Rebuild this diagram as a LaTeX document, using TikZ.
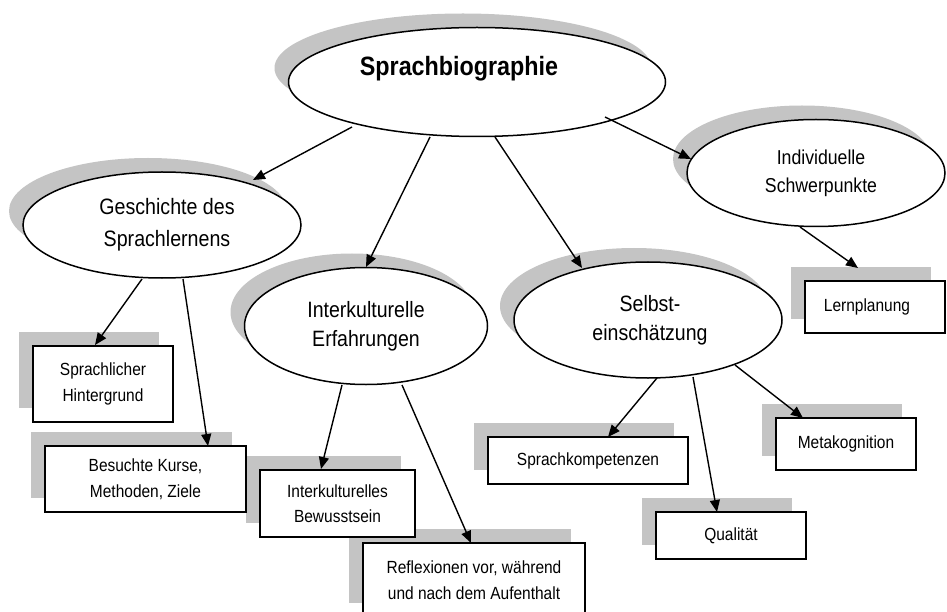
\documentclass[tikz,border=0pt]{standalone}
\usepackage{fontspec}
\setmainfont[FakeStretch=0.88]{Liberation Sans}
\usetikzlibrary{shapes.geometric,shadows,arrows.meta}
\begin{document}
\begin{tikzpicture}[x=1pt,y=-1pt,
  shad/.style={drop shadow={shadow xshift=-14pt,shadow yshift=14pt,fill=black!23,opacity=1}},
  oval/.style={ellipse,draw,line width=1.5pt,fill=white,inner sep=0pt,align=center,shad,font=\fontsize{22.2}{29}\selectfont},
  box/.style={rectangle,draw,line width=2.6pt,fill=white,inner sep=0pt,align=center,shad,font=\fontsize{17.6}{25.5}\selectfont},
  arr/.style={line width=1.4pt,-{Triangle[length=12pt,width=10pt]}}]
\useasboundingbox (0,0) rectangle (947,612);
\fill[white] (0,0) rectangle (947,612);
% ellipses
\node[oval,minimum width=377pt,minimum height=109pt] (bio) at (477,82) {};
\node[font=\bfseries\fontsize{26.5}{30}\selectfont,anchor=base,inner sep=0pt] (title) at (459,76) {Sprachbiographie};
\node[oval,minimum width=258pt,minimum height=107pt,font=\fontsize{20.1}{28}\selectfont] (indiv) at (816,173) {\hspace*{10pt}Individuelle\\\hspace*{10pt}Schwerpunkte};
\node[oval,minimum width=278pt,minimum height=106pt,font=\fontsize{22.3}{32}\selectfont] (gesch) at (162,225) {\hspace*{10pt}Geschichte des\\\hspace*{10pt}Sprachlernens};
\node[oval,minimum width=268pt,minimum height=116pt] (selbst) at (648,320) {\hspace*{4pt}Selbst-\\\hspace*{4pt}einschätzung};
\node[oval,minimum width=243pt,minimum height=117pt] (inter) at (366,326) {Interkulturelle\\Erfahrungen};
% boxes
\node[box,minimum width=222pt,minimum height=74pt] (rf) at (474,580) {Reflexionen vor, während\\und nach dem Aufenthalt};
\node[box,minimum width=155pt,minimum height=67pt] (ib) at (337.5,503.5) {Interkulturelles\\Bewusstsein};
\node[box,minimum width=140pt,minimum height=76pt] (sh) at (103,384) {Sprachlicher\\Hintergrund};
\node[box,minimum width=201pt,minimum height=66pt] (bk) at (145.5,479) {Besuchte Kurse,\\Methoden, Ziele};
\node[box,minimum width=200pt,minimum height=47pt] (sk) at (588,460.5) {Sprachkompetenzen};
\node[box,minimum width=150pt,minimum height=47pt] (ql) at (731,535.5) {Qualität};
\node[box,minimum width=140pt,minimum height=52pt] (mk) at (846,444) {Metakognition};
\node[box,minimum width=140pt,minimum height=52pt] (lp) at (875,307) {Lernplanung\hspace*{16pt}};
% arrows
\draw[arr] ([shift={(-125,45)}]bio.center) -- ([shift={(91,-45)}]gesch.center);
\draw[arr] ([shift={(-47,55)}]bio.center) -- ([shift={(0,-59)}]inter.center);
\draw[arr] ([shift={(18,55)}]bio.center) -- ([shift={(-66,-52)}]selbst.center);
\draw[arr] ([shift={(128,35)}]bio.center) -- ([shift={(-125,-14)}]indiv.center);
\draw[arr] ([shift={(-20,54)}]gesch.center) -- ([shift={(-8,-39)}]sh.center);
\draw[arr] ([shift={(21,54)}]gesch.center) -- ([shift={(62.5,-33)}]bk.center);
\draw[arr] ([shift={(-24,59)}]inter.center) -- ([shift={(-16.5,-34.5)}]ib.center);
\draw[arr] ([shift={(36,59)}]inter.center) -- ([shift={(-3,-37)}]rf.center);
\draw[arr] ([shift={(9,58)}]selbst.center) -- ([shift={(20,-23.5)}]sk.center);
\draw[arr] ([shift={(45,57)}]selbst.center) -- ([shift={(-14,-23.5)}]ql.center);
\draw[arr] ([shift={(87,45)}]selbst.center) -- ([shift={(-43,-26)}]mk.center);
\draw[arr] ([shift={(-16,54)}]indiv.center) -- ([shift={(-17,-39)}]lp.center);
\end{tikzpicture}
\end{document}
